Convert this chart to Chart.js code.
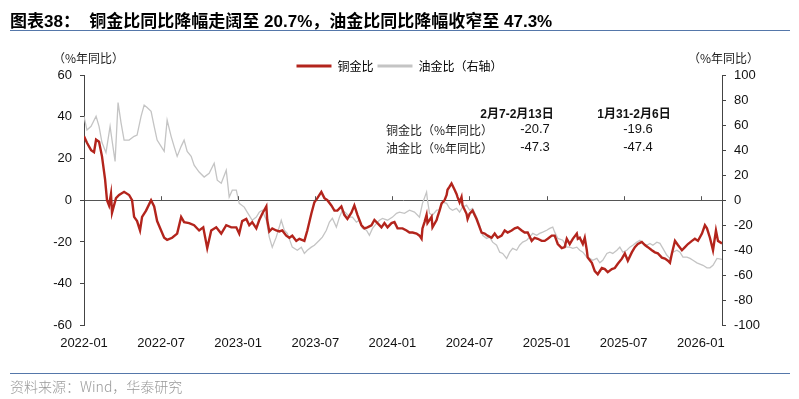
<!DOCTYPE html>
<html>
<head>
<meta charset="utf-8">
<script src="https://cdn.jsdelivr.net/npm/chart.js@4.4.1/dist/chart.umd.min.js"></script>
<style>
  body { margin: 0; background: #fff; }
  #wrap { position: relative; width: 799px; height: 399px; overflow: hidden; font-family: "Liberation Sans", Arial, "Noto Sans CJK SC", sans-serif; }
  #wrap canvas { position: absolute; left: 0; top: 0; }
  .t { position: absolute; white-space: nowrap; }
  #title { left: 10px; top: 7px; font-size: 17px; font-weight: bold; color: #000; }
  .rule { position: absolute; left: 10px; width: 780px; height: 0; border-top: 1.5px solid #5577aa; }
  #src { left: 10px; top: 376px; font-size: 14px; color: #999; font-family: "Noto Sans CJK SC", sans-serif; font-weight: 300; }
  .unit { top: 49px; font-size: 12px; color: #222; font-family: "Noto Sans CJK SC", sans-serif; }
  .hd { font-size: 12px; font-weight: bold; color: #111; transform: translateX(-50%); }
  .rl { font-size: 12px; color: #222; font-family: "Noto Sans CJK SC", sans-serif; }
  .vl { font-size: 13px; color: #111; transform: translateX(-50%); }
</style>
</head>
<body>
<div id="wrap">
  <canvas id="c" width="799" height="399"></canvas>
  <div class="t" id="title">图表38：&nbsp;&nbsp;铜金比同比降幅走阔至 20.7%，油金比同比降幅收窄至 47.3%</div>
  <div class="rule" style="top:30px"></div>
  <div class="t unit" style="left:53px">（%年同比）</div>
  <div class="t unit" style="left:688px">（%年同比）</div>
  <div class="t hd" style="left:517px;top:104px">2月7-2月13日</div>
  <div class="t hd" style="left:634px;top:104px">1月31-2月6日</div>
  <div class="t rl" style="left:386px;top:121px">铜金比（%年同比）</div>
  <div class="t rl" style="left:386px;top:139px">油金比（%年同比）</div>
  <div class="t vl" style="left:535px;top:121px">-20.7</div>
  <div class="t vl" style="left:638px;top:121px">-19.6</div>
  <div class="t vl" style="left:535px;top:139px">-47.3</div>
  <div class="t vl" style="left:638px;top:139px">-47.4</div>
  <div class="rule" style="top:373px"></div>
  <div class="t" id="src">资料来源：Wind，华泰研究</div>
</div>
<script>
// x = months since 2022-01
const xTickLabels = ["2022-01","2022-07","2023-01","2023-07","2024-01","2024-07","2025-01","2025-07","2026-01"];

const cuMonth = [0.0,0.23,0.55,0.78,0.94,1.17,1.40,1.64,1.79,1.95,2.10,2.18,2.49,2.73,3.12,3.51,3.74,3.90,4.13,4.36,
  4.52,4.83,5.22,5.46,5.69,6.00,6.24,6.47,6.86,7.25,7.56,7.79,8.18,8.57,8.96,9.28,9.59,9.90,10.29,10.68,
  11.07,11.46,11.85,12.08,12.31,12.63,12.86,13.09,13.41,13.64,13.87,14.19,14.26,14.42,14.65,14.96,15.20,15.43,15.74,15.98,
  16.21,16.52,16.76,17.15,17.38,17.69,17.93,18.16,18.47,18.71,18.94,19.25,19.49,19.72,20.03,20.26,20.50,20.81,21.04,21.28,
  21.59,21.82,22.06,22.37,22.60,22.84,23.15,23.38,23.62,23.93,24.16,24.40,24.79,25.10,25.33,25.57,25.88,26.11,26.27,26.34,
  26.50,26.66,26.73,27.05,27.12,27.44,27.51,27.67,27.83,28.06,28.22,28.29,28.45,28.60,28.68,28.84,28.99,29.07,29.23,29.38,
  29.46,29.77,29.85,30.01,30.24,30.55,30.79,30.94,31.18,31.41,31.72,31.96,32.19,32.50,32.74,32.97,33.28,33.52,33.75,34.06,
  34.29,34.53,34.84,35.07,35.31,35.62,35.85,36.09,36.40,36.63,36.87,37.18,37.41,37.57,37.80,38.04,38.35,38.43,38.58,38.82,
  38.97,39.13,39.20,39.52,39.75,39.98,40.30,40.53,40.76,41.08,41.31,41.54,41.86,42.09,42.32,42.63,42.87,43.10,43.41,43.65,
  43.88,44.19,44.43,44.66,44.97,45.21,45.44,45.60,45.75,45.99,46.22,46.53,46.77,47.00,47.31,47.54,47.78,48.09,48.32,48.48,
  48.71,48.95,49.18,49.34,49.65];
const cuYoY = [30.6,27.5,24,23,29,28,21,10,0,-2.5,3,-6,1,2.5,4,2.5,0,-8,-10,-14.5,
  -8,-5,0,-3,-10,-14.5,-18,-19,-18,-16,-8,-10.5,-11,-12,-14.5,-13,-23,-14.5,-13,-16,
  -12,-13,-13,-16,-10,-9,-12,-10.5,-13.5,-9.5,-6.5,-3,-9.5,-15,-13.5,-14.5,-15,-14.5,-17,-18,
  -17,-19.5,-18.5,-19.5,-14.5,-6.5,-1,1,4,1,0,-2.5,-5,-5,-3,-7,-9,-6,-2.5,-7,
  -12,-13.5,-13,-12,-9.5,-11,-13,-11,-13,-11,-10.5,-13.5,-13.5,-14.5,-15.5,-15.5,-16,-17,-18.5,-13.5,
  -10.5,-7,-11,-8,-13,-9.5,-8,-5,-1.5,0,2.5,5,6.5,8,7,5,3,1.5,-1,1.5,
  -2.5,-6.5,-9,-6.5,-5,-9,-13,-15.5,-16,-17,-18,-16,-18,-17,-14.5,-15.5,-14.5,-13.5,-13,-14.5,
  -15.5,-15.5,-19.5,-18,-18.5,-19.5,-19.5,-18.5,-17,-17,-21,-23,-22.5,-18.5,-21,-18.5,-16,-18.5,-18,-21,
  -18,-24,-27.5,-30,-34,-35.5,-32.5,-33,-34.5,-33,-32.5,-30.5,-28,-25.5,-29,-25,-22.5,-21,-20,-21.5,
  -22.5,-24,-25,-25.5,-27.5,-28,-29,-30,-25.5,-19.5,-21.5,-24,-22.5,-21,-19.5,-18.5,-19.5,-16,-12,-13.5,
  -18,-24,-14.5,-19.5,-20.7];

const oilMonth = [0.0,0.23,0.55,0.94,1.17,1.40,1.71,2.03,2.18,2.42,2.65,2.88,3.12,3.51,3.90,4.13,4.44,4.68,4.91,5.22,
  5.46,5.69,6.00,6.24,6.47,6.78,7.01,7.25,7.56,7.79,8.03,8.34,8.57,8.96,9.35,9.74,10.13,10.37,10.68,11.07,
  11.30,11.54,11.85,12.08,12.47,12.70,13.09,13.41,13.64,13.87,14.19,14.42,14.65,14.96,15.35,15.59,15.82,16.21,16.60,16.91,
  17.15,17.38,17.69,17.93,18.32,18.55,18.86,19.10,19.33,19.64,19.88,20.11,20.42,20.65,20.89,21.20,21.43,21.67,21.98,22.21,
  22.45,22.76,22.99,23.23,23.62,24.01,24.32,24.55,24.94,25.33,25.72,26.11,26.34,26.66,26.73,26.89,27.12,27.44,27.67,27.90,
  28.22,28.45,28.68,28.99,29.23,29.46,29.77,30.01,30.24,30.55,30.79,31.02,31.33,31.57,31.80,32.11,32.35,32.58,32.89,33.13,
  33.36,33.67,33.90,34.14,34.45,34.68,34.92,35.23,35.46,35.70,36.01,36.24,36.48,36.63,36.87,37.26,37.57,37.80,38.04,38.35,
  38.58,38.82,39.13,39.36,39.59,39.91,40.14,40.37,40.69,40.92,41.15,41.47,41.70,41.93,42.24,42.48,42.71,43.02,43.26,43.49,
  43.80,44.04,44.27,44.58,44.82,45.05,45.36,45.60,45.83,46.14,46.38,46.61,46.92,47.16,47.39,47.70,47.93,48.17,48.48,48.71,
  48.95,49.26,49.65];
const oilYoY = [67,56,59,67,59,46,38,59,48,31,78,62,48,48,51,52,67,76,74,71,
  59,48,43,39,64,51,43,35,43,48,39,35,28,22.5,18.5,21.5,29.5,16,13.5,24,
  2.5,8,8,-2.5,-5.5,-9.5,-16,-13.5,-9.5,-8,-16,-29.5,-37.5,-29.5,-16,-24,-26.5,-37.5,-40,-37.5,
  -42.5,-40,-37.5,-36,-32,-29.5,-24,-17.5,-14.5,-21.5,-13.5,-8,-10.5,-13.5,-13.5,-17.5,-16,-22.5,-24,-28,
  -22.5,-18.5,-16,-14.5,-16,-13.5,-10.5,-9.5,-10.5,-8,-9.5,-13.5,-2.5,6.5,0,-10.5,-12,-8,-8,-1.5,
  -2.5,-6.5,-8,-6.5,-9.5,-5.5,-4,-8,-6.5,-13.5,-20,-28,-30.5,-29.5,-33.5,-36,-41.5,-42.5,-46.5,-41.5,
  -38.5,-40,-36,-33.5,-32,-29.5,-26.5,-28,-26.5,-25.5,-24,-22.5,-21.5,-25.5,-30.5,-32,-37.5,-37.5,-38.5,-37.5,
  -40,-41.5,-45.5,-46.5,-48,-46.5,-50,-48,-42.5,-41.5,-42.5,-40,-37.5,-41.5,-40,-37.5,-36,-33.5,-32,-34.5,
  -36,-34.5,-36,-33.5,-34.5,-38.5,-44,-46.5,-41.5,-40,-41.5,-45.5,-45.5,-46.5,-48,-50,-51,-52,-54,-54,
  -52,-46.5,-47.3];

const RED = "#b3241c";
const GREY = "#c4c4c4";

const zeroTicks = {
  id: "zeroTicks",
  afterDraw(chart) {
    const xs = chart.scales.x, ys = chart.scales.y;
    const y0 = ys.getPixelForValue(0);
    const c = chart.ctx;
    c.save();
    c.strokeStyle = "#555";
    c.lineWidth = 1;
    xs.ticks.forEach(t => {
      if (t.value === 0) return;
      const px = Math.round(xs.getPixelForValue(t.value)) + 0.5;
      c.beginPath();
      c.moveTo(px, y0);
      c.lineTo(px, y0 - 4);
      c.stroke();
    });
    c.restore();
  }
};

const legendFit = {
  id: "legendFit",
  beforeInit(chart) {
    const orig = chart.legend.fit;
    chart.legend.fit = function () {
      orig.bind(chart.legend)();
      this.height = 19;
    };
  }
};

Chart.defaults.font.family = '"Liberation Sans", Arial, "Noto Sans CJK SC", sans-serif';
Chart.defaults.color = "#111";

new Chart(document.getElementById("c"), {
  type: "line",
  data: {
    datasets: [
      {
        label: "铜金比",
        data: cuMonth.map((m, i) => ({ x: m, y: cuYoY[i] })),
        borderColor: RED,
        backgroundColor: RED,
        borderWidth: 2.4,
        pointRadius: 0,
        tension: 0,
        yAxisID: "y",
        order: 1
      },
      {
        label: "油金比（右轴）",
        data: oilMonth.map((m, i) => ({ x: m, y: oilYoY[i] })),
        borderColor: GREY,
        backgroundColor: GREY,
        borderWidth: 1.3,
        pointRadius: 0,
        tension: 0,
        yAxisID: "y1",
        order: 2
      }
    ]
  },
  options: {
    responsive: false,
    animation: false,
    layout: { padding: { top: 56, bottom: 38, left: 0, right: 0 } },
    plugins: {
      tooltip: { enabled: false },
      legend: {
        position: "top",
        labels: {
          boxWidth: 35,
          boxHeight: 3,
          padding: 4,
          font: { size: 12, family: '"Noto Sans CJK SC", sans-serif' },
          color: "#222",
          generateLabels(chart) {
            return chart.data.datasets.map((d, i) => ({
              text: d.label,
              fillStyle: d.borderColor,
              strokeStyle: d.borderColor,
              lineWidth: 0,
              datasetIndex: i
            }));
          }
        }
      }
    },
    scales: {
      x: {
        type: "linear",
        min: 0,
        max: 49.65,
        afterBuildTicks(scale) {
          scale.ticks = xTickLabels.map((l, i) => ({ value: i * 6 }));
        },
        ticks: {
          callback: (v) => xTickLabels[Math.round(v / 6)],
          maxRotation: 0,
          autoSkip: false,
          padding: 10,
          font: { size: 13 }
        },
        grid: { display: false, drawTicks: false },
        border: { display: false }
      },
      y: {
        position: "left",
        min: -60,
        max: 60,
        ticks: { stepSize: 20, padding: 8, font: { size: 13 } },
        grid: {
          drawTicks: true,
          tickLength: 4,
          tickColor: "#444",
          color: (ctx) => (ctx.tick && ctx.tick.value === 0 ? "#555" : "rgba(0,0,0,0)")
        },
        border: { display: true, color: "#444", width: 1 },
        afterFit(scale) { scale.width = 84; }
      },
      y1: {
        position: "right",
        min: -100,
        max: 100,
        ticks: { stepSize: 20, padding: 8, font: { size: 13 } },
        grid: { drawOnChartArea: false, tickLength: 4, tickColor: "#444" },
        border: { display: true, color: "#444", width: 1 },
        afterFit(scale) { scale.width = 77; }
      }
    }
  },
  plugins: [legendFit, zeroTicks]
});
</script>
</body>
</html>
